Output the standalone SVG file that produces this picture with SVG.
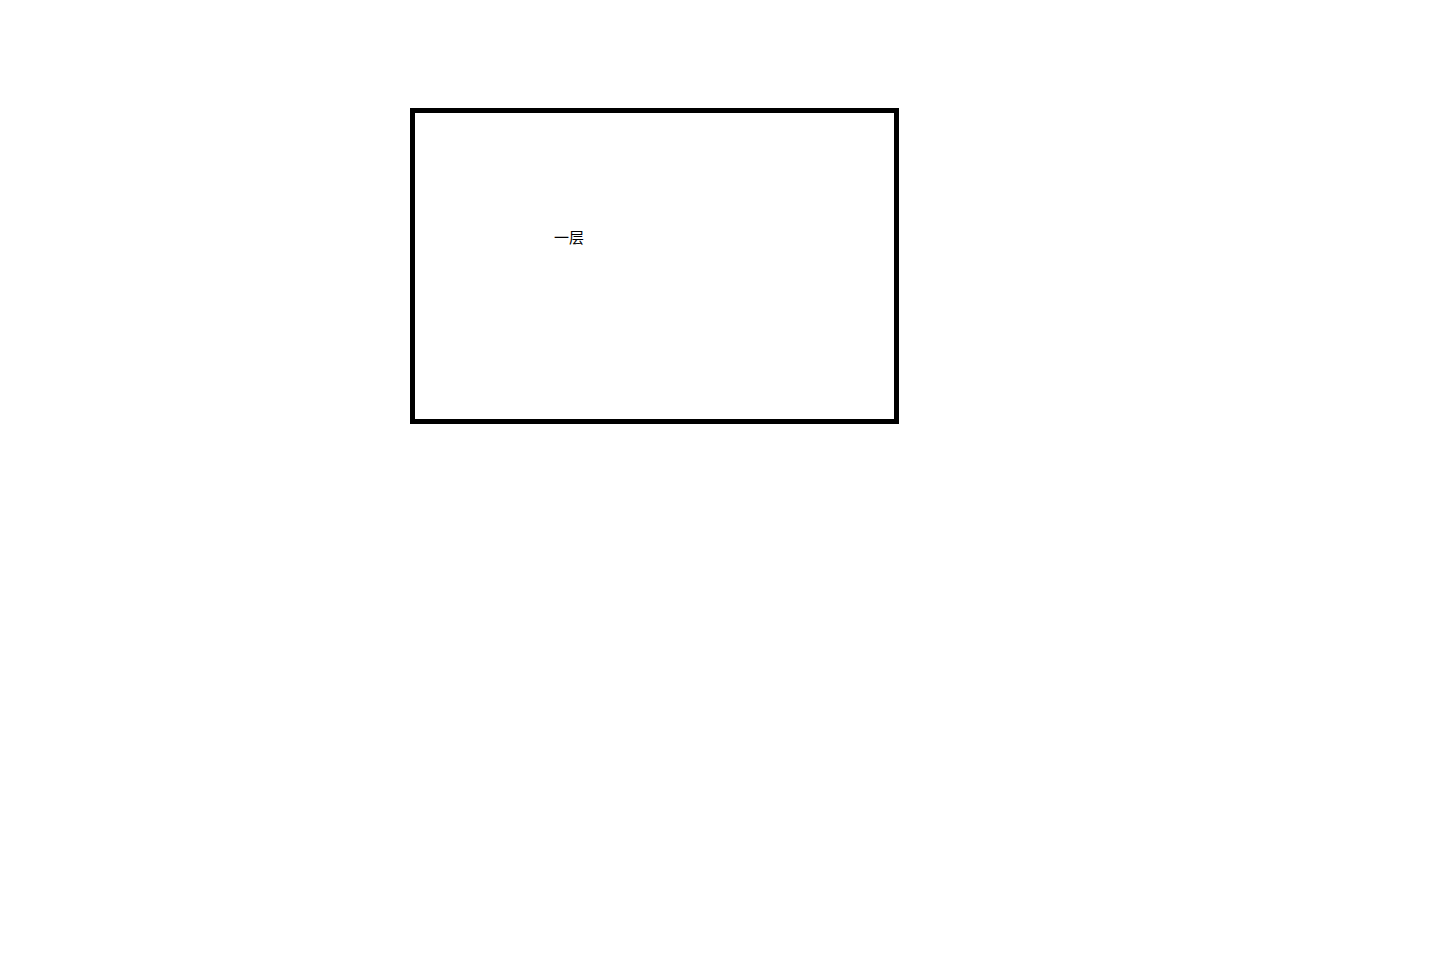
<svg xmlns="http://www.w3.org/2000/svg" width="1450" height="960" viewBox="0 0 1450 960">
<style>
.frame{fill:none;stroke:#000;stroke-width:5}
.lbl{font-family:"Liberation Sans","Noto Sans CJK SC",sans-serif;font-size:15px;fill:#000}
</style>
<rect width="1450" height="960" fill="#fff"/>
<g id="floor1">
<rect class="frame" x="412.5" y="110.5" width="484" height="311"/>
<text class="lbl" x="554" y="243">一层</text>
</g>
<g id="connectors"></g>
</svg>
